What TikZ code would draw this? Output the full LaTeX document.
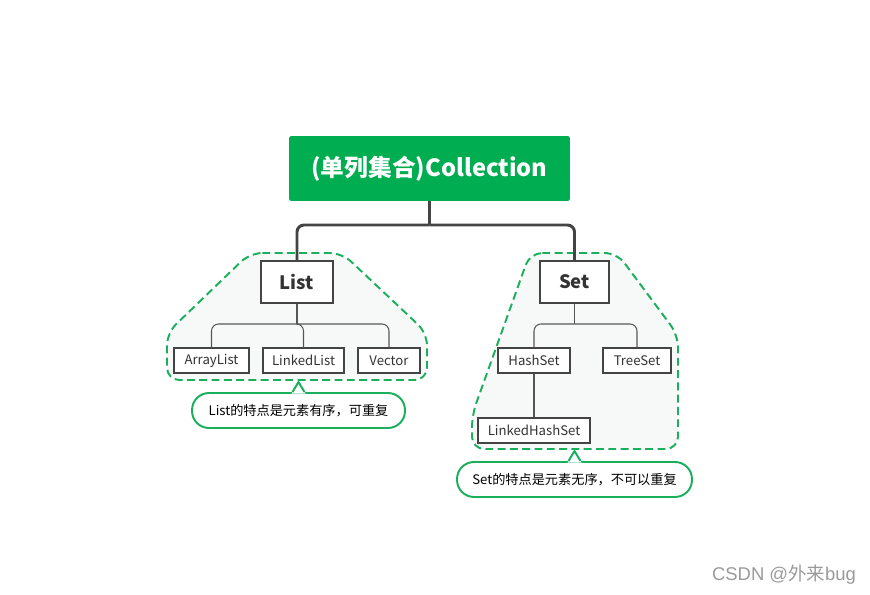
\documentclass[tikz,border=0pt]{standalone}
\usepackage{fontspec}
\setmainfont{Noto Sans CJK SC}
\newfontfamily\wmfont{Liberation Sans}
\usepackage{tikz}
\usetikzlibrary{positioning, calc}
\definecolor{rootgreen}{HTML}{00AD50}
\definecolor{groupgreen}{HTML}{1AAF5D}
\definecolor{groupfill}{HTML}{F7F9F8}
\definecolor{boxgray}{HTML}{444444}
\definecolor{twiggray}{HTML}{555555}
\definecolor{textgray}{HTML}{333333}
\definecolor{markgray}{HTML}{9A9A9A}

\begin{document}
\begin{tikzpicture}[
    x=0.02cm, y=-0.02cm,
    root/.style={rectangle, fill=rootgreen, text=white, rounded corners=1pt,
                 minimum width=5.62cm, minimum height=1.3cm,
                 font=\fontsize{13.5}{16}\selectfont\bfseries},
    iface/.style={rectangle, draw=boxgray, line width=1.3pt, fill=white,
                  minimum height=0.84cm, text=textgray,
                  font=\fontsize{10.5}{12}\selectfont\bfseries},
    impl/.style={rectangle, draw=boxgray, line width=0.6pt, fill=white,
                 minimum height=0.5cm, inner sep=0pt, text=textgray,
                 font=\fontsize{7.5}{9}\selectfont},
    trunk/.style={draw=boxgray, line width=1.7pt, rounded corners=4pt},
    twig/.style={draw=twiggray, line width=0.6pt, rounded corners=4pt},
    group/.style={draw=groupgreen, dash pattern=on 4.5pt off 2.5pt,
                  line width=1.1pt, fill=groupfill, rounded corners=7pt},
    note/.style={rectangle, rounded corners=0.34cm, draw=groupgreen,
                 line width=1.1pt, fill=white, minimum height=0.7cm,
                 inner sep=0pt, font=\fontsize{7.5}{9}\selectfont},
    tab/.style={draw=groupgreen, line width=1.1pt, line join=round}
]
    \useasboundingbox (0,0) rectangle (870,595);

    \path[group] (250,253) -- (342,253) -- (427,333) -- (427,380)
      -- (167,380) -- (167,333) -- cycle;
    \path[group] (530,253) -- (617,253) -- (678,335) -- (678,449)
      -- (472,449) -- (472,415) -- cycle;

    \node[root] (coll) at (429.5,168.5) {(单列集合)Collection};
    \node[iface, minimum width=1.44cm] (list) at (297,282) {List};
    \node[iface, minimum width=1.38cm] (set) at (574.5,282) {Set};

    \node[impl, minimum width=1.5cm] (arraylist) at (211.5,360.5) {ArrayList};
    \node[impl, minimum width=1.62cm] (linkedlist) at (303.5,360.5) {LinkedList};
    \node[impl, minimum width=1.24cm] (vector) at (389,360.5) {Vector};
    \node[impl, minimum width=1.44cm] (hashset) at (534,360.5) {HashSet};
    \node[impl, minimum width=1.36cm] (treeset) at (637,360.5) {TreeSet};
    \node[impl, minimum width=2.24cm] (linkedhashset) at (534,430.5) {LinkedHashSet};

    \coordinate (bus) at (429.5,225);
    \draw[trunk] (coll.south) -- (bus);
    \draw[trunk] (bus) -| (list.north);
    \draw[trunk] (bus) -| (set.north);

    \coordinate (lbus) at (297,324);
    \draw[twig] (list.south) -- (lbus);
    \draw[twig] (lbus) -| (arraylist.north);
    \draw[twig] (lbus) -| (linkedlist.north);
    \draw[twig] (lbus) -| (vector.north);

    \coordinate (sbus) at (574.5,324);
    \draw[twig] (set.south) -- (sbus);
    \draw[twig] (sbus) -| (hashset.north);
    \draw[twig] (sbus) -| (treeset.north);
    \draw[twig] (hashset.south) -- (linkedhashset.north);

    \node[note, minimum width=4.26cm] (listnote) at (298.5,410.5)
      {List的特点是元素有序，可重复};
    \fill[white] ($(listnote.north)+(-7,1.5)$) -- ($(listnote.north)+(0,-10)$)
      -- ($(listnote.north)+(7,1.5)$) -- cycle;
    \draw[tab] ($(listnote.north)+(-6,0)$) -- ($(listnote.north)+(0,-10)$)
      -- ($(listnote.north)+(6,0)$);

    \node[note, minimum width=4.7cm] (setnote) at (574.5,479.5)
      {Set的特点是元素无序，不可以重复};
    \fill[white] ($(setnote.north)+(-7,1.5)$) -- ($(setnote.north)+(0,-10)$)
      -- ($(setnote.north)+(7,1.5)$) -- cycle;
    \draw[tab] ($(setnote.north)+(-6,0)$) -- ($(setnote.north)+(0,-10)$)
      -- ($(setnote.north)+(6,0)$);

    \node[text=markgray, font=\fontsize{10.5}{12}\selectfont] (mark) at (784,575)
      {\wmfont CSDN @\rmfamily 外来\wmfont bug};
\end{tikzpicture}
\end{document}
